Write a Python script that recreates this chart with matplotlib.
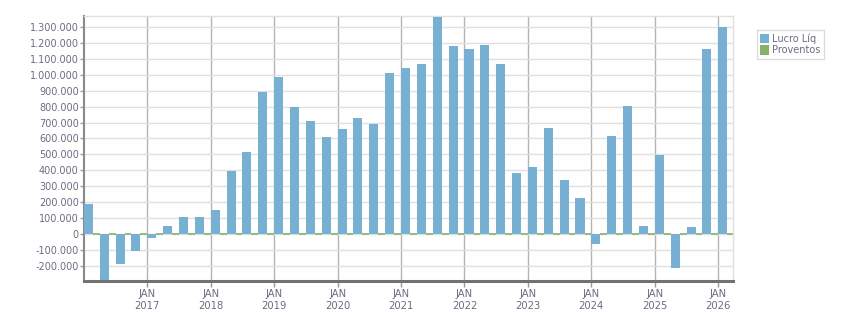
import matplotlib
matplotlib.use("Agg")
import matplotlib.pyplot as plt
from matplotlib.patches import Patch
from matplotlib.ticker import FixedLocator, FuncFormatter

# Quarterly index: 0 = JAN 2017; first bar (-4) = JAN 2016
quarters = list(range(-4, 37))
lucro = [190000, -293000, -190000, -105000, -25000, 50000, 107000, 107000,
         150000, 396000, 515000, 894000, 986000, 800000, 710000, 610000,
         660000, 730000, 690000, 1010000, 1040000, 1068000, 1363000, 1180000,
         1162000, 1187000, 1068000, 383000, 421000, 666000, 339000, 226000,
         -63000, 615000, 804000, 50000, 496000, -214000, 44000, 1162000, 1300000]
proventos = [0] * len(quarters)
year_ticks = [0, 4, 8, 12, 16, 20, 24, 28, 32, 36]
year_labels = ["2017", "2018", "2019", "2020", "2021", "2022", "2023", "2024", "2025", "2026"]
series_names = ["Lucro Líq", "Proventos"]

BLUE = "#78b0d3"
GREEN = "#86b26a"
TXT = "#6e6b82"

plt.rcParams['font.family'] = ['DejaVu Sans']
fig = plt.figure(figsize=(8.51, 3.13), dpi=100)
ax = fig.add_axes([84.3 / 851, 32.3 / 313, (733.3 - 84.3) / 851, (280.7 - 16) / 313])

w = 0.57
ax.bar(quarters, lucro, width=w, align='edge', color=BLUE, zorder=3, linewidth=0)
# Proventos (all zero) drawn as green segments at the baseline in the gaps
ax.hlines(proventos, [q + w for q in quarters], [q + 1 for q in quarters],
          colors=GREEN, linewidth=1.2, zorder=2)

ax.set_xlim(-3.97, 36.95)
ax.set_ylim(-293000, 1369000)

yt = list(range(-200000, 1300001, 100000))
ax.yaxis.set_major_locator(FixedLocator(yt))
ax.yaxis.set_major_formatter(FuncFormatter(lambda v, p: f"{int(v):,}".replace(",", ".")))
ax.set_xticks(year_ticks)
ax.set_xticklabels([f"JAN\n{y}" for y in year_labels], linespacing=1.2)

ax.grid(axis='y', color='#e0e0e0', linewidth=1, zorder=0)
ax.grid(axis='x', color='#b4b4b4', linewidth=1, zorder=1)
ax.set_axisbelow(True)

for s in ['top', 'right']:
    ax.spines[s].set_color('#e0e0e0')
    ax.spines[s].set_linewidth(1)
ax.spines['left'].set_color('#8a8a8a')
ax.spines['left'].set_linewidth(1.5)
ax.spines['bottom'].set_color('#727272')
ax.spines['bottom'].set_linewidth(2.2)
ax.spines['bottom'].set_zorder(4)

ax.tick_params(axis='y', labelsize=7, colors='#9a9a9a', labelcolor=TXT, length=3, width=1, pad=1)
ax.tick_params(axis='x', labelsize=7.2, colors='#9a9a9a', labelcolor=TXT, length=4, width=1, pad=2)

handles = [Patch(facecolor=BLUE, edgecolor='none'), Patch(facecolor=GREEN, edgecolor='none')]
leg = fig.legend(handles, series_names, loc='upper left',
                 bbox_to_anchor=(756.7 / 851, 1 - 30 / 313), fontsize=7,
                 frameon=True, fancybox=False, framealpha=1, edgecolor='#dcdcdc',
                 handlelength=0.9, handleheight=1.1, handletextpad=0.3,
                 borderpad=0.35, labelspacing=0.15, borderaxespad=0)
for t in leg.get_texts():
    t.set_color(TXT)

fig.savefig("out.png", dpi=100)
